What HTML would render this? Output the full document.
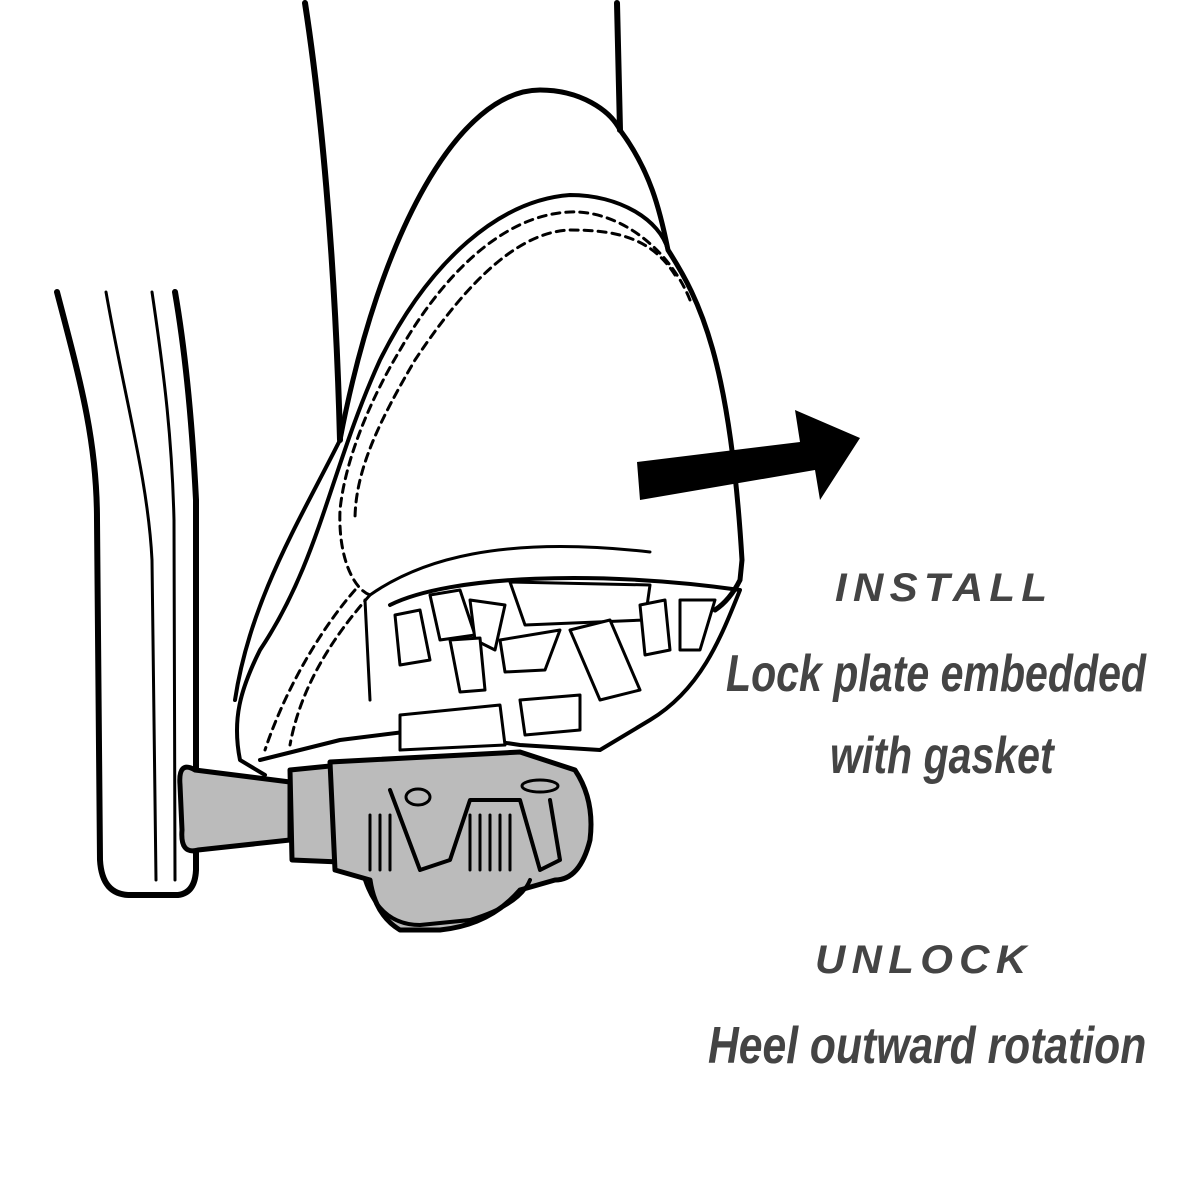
<!DOCTYPE html>
<html><head><meta charset="utf-8"><style>
html,body{margin:0;padding:0;background:#fff;width:1200px;height:1200px;overflow:hidden}
.t{position:absolute;font-family:"Liberation Sans",sans-serif;font-weight:bold;font-style:italic;color:#444;white-space:nowrap;transform-origin:left top}
</style></head><body>
<svg width="1200" height="1200" style="position:absolute;left:0;top:0" fill="none" stroke="#000" stroke-linecap="round" stroke-linejoin="round">
<path d="M57 292 C80 380 97 440 97 520 L100 860 Q102 895 130 895 L178 895 Q195 893 196 870 L196 500 C192 420 185 350 175 292" stroke-width="6"/>
<path d="M106 292 C125 400 148 480 152 560 L156 880" stroke-width="3"/>
<path d="M152 292 C165 380 172 440 174 520 L175 880" stroke-width="3"/>
<path d="M305 3 C320 100 335 250 340 440" stroke-width="6"/>
<path d="M617 3 L620 130" stroke-width="6"/>
<path d="M340 440 C380 230 460 90 540 90 C580 90 610 110 620 130 C650 170 660 210 668 250 C700 300 730 360 742 560 L740 580 Q730 600 715 610" stroke-width="5"/>
<path d="M668 250 C660 220 620 195 570 195 C500 200 430 260 380 360 C330 470 320 560 260 650 C240 690 232 720 240 760 L265 775" stroke-width="4"/>
<path d="M340 440 C300 520 250 600 235 700" stroke-width="4"/>
<path d="M690 300 C670 250 620 210 570 212 C500 215 440 280 400 350 C370 400 345 460 340 510 C338 560 355 590 370 595" stroke-width="3" stroke-dasharray="8 6"/>
<path d="M675 275 C650 235 610 230 570 230 C510 232 455 300 415 360 C380 420 355 470 355 520" stroke-width="3" stroke-dasharray="8 6"/>
<path d="M370 595 C330 640 300 690 290 745" stroke-width="3" stroke-dasharray="8 6"/>
<path d="M355 590 C320 630 285 690 265 750" stroke-width="3" stroke-dasharray="8 6"/>
<path d="M370 595 C420 560 500 535 650 552" stroke-width="3"/>
<path d="M365 600 L370 700" stroke-width="3"/>
<path d="M390 605 C450 575 600 570 740 590 C720 640 700 690 650 720 L600 750 L520 745 L420 730 L340 740 L260 760" stroke-width="4"/>
<g stroke-width="3" fill="#fff">
<path d="M510 582 L650 585 L645 620 L525 625 Z"/>
<path d="M430 595 L460 590 L475 635 L440 640 Z"/>
<path d="M470 600 L505 605 L495 650 L475 640 Z"/>
<path d="M395 615 L420 610 L430 660 L400 665 Z"/>
<path d="M640 605 L665 600 L670 650 L645 655 Z"/>
<path d="M680 600 L715 600 L700 650 L680 650 Z"/>
<path d="M570 630 L610 620 L640 690 L600 700 Z"/>
<path d="M500 640 L560 630 L545 670 L505 672 Z"/>
<path d="M450 640 L480 638 L485 690 L460 692 Z"/>
<path d="M520 700 L580 695 L580 730 L525 735 Z"/>
<path d="M400 715 L500 705 L505 745 L400 750 Z"/>
</g>
<path d="M180 785 Q178 760 195 770 L290 782 L290 840 L198 850 Q180 855 182 830 Z" fill="#bbb" stroke-width="5"/>
<path d="M290 770 L340 765 L340 862 L292 860 Z" fill="#bbb" stroke-width="5"/>
<path d="M330 762 L520 752 L575 770 Q595 800 590 840 Q580 880 555 880 L520 890 Q490 925 440 930 L400 930 Q375 915 370 880 L335 870 Z" fill="#bbb" stroke-width="5"/>
<path d="M365 880 Q380 925 420 925 L470 920 Q520 905 530 880" stroke-width="4"/>
<path d="M390 790 L420 870 L450 860 L470 800 L520 800 L540 870 L560 860 L550 800" stroke-width="4"/>
<g stroke-width="3"><path d="M470 815 V870 M480 815 V870 M490 815 V870 M500 815 V870 M510 815 V870 M370 815 V870 M380 815 V870 M390 815 V870"/></g>
<ellipse cx="418" cy="797" rx="12" ry="8" stroke-width="3"/>
<ellipse cx="540" cy="786" rx="18" ry="6" stroke-width="3"/>
<path d="M637 462 L800 442 L795 410 L860 438 L820 500 L815 470 L640 500 Z" fill="#000" stroke="none"/>
</svg>
<div class="t" style="left:835px;top:566px;font-size:40px;letter-spacing:6px;transform:scaleX(1.05)">INSTALL</div>
<div class="t" style="left:726px;top:644px;font-size:52px;transform:scaleX(0.79)">Lock plate embedded</div>
<div class="t" style="left:830px;top:726px;font-size:52px;transform:scaleX(0.79)">with gasket</div>
<div class="t" style="left:815px;top:938px;font-size:40px;letter-spacing:6px;transform:scaleX(1.05)">UNLOCK</div>
<div class="t" style="left:708px;top:1016px;font-size:52px;transform:scaleX(0.82)">Heel outward rotation</div>
</body></html>
